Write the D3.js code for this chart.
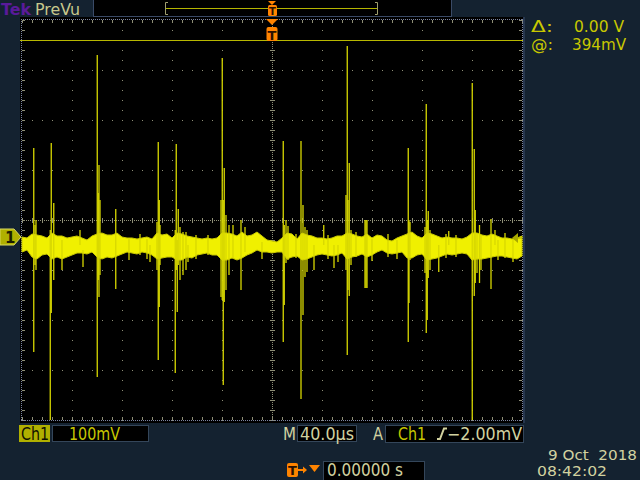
<!DOCTYPE html>
<html><head><meta charset="utf-8">
<script src="https://cdn.jsdelivr.net/npm/d3@7"></script>
<style>html,body{margin:0;padding:0;background:#142230;}svg{display:block;}</style>
</head><body>
<svg id="scope" width="640" height="480"></svg>
<script>
// ---------------- DATA ----------------
// Time base: 40 µs/div, 10 divisions, trigger at centre (µs)
const timeUs = [-200,-196,-192,-188,-184,-180,-176,-172,-168,-164,
 -160,-156,-152,-148,-144,-140,-136,-132,-128,-124,
 -120,-116,-112,-108,-104,-100,-96,-92,-88,-84,
 -80,-76,-72,-68,-64,-60,-56,-52,-48,-44,
 -40,-36,-32,-28,-24,-20,-16,-12,-8,-4,
 0,4,8,12,16,20,24,28,32,36,
 40,44,48,52,56,60,64,68,72,76,
 80,84,88,92,96,100,104,108,112,116,
 120,124,128,132,136,140,144,148,152,156,
 160,164,168,172,176,180,184,188,192,196,200];
// Noise band envelope (mV), Ch1 100 mV/div
const bandHighMv = [0,-2,6,4,2,-2,8,2,2,-2,
 0,2,-2,-6,2,6,8,4,4,8,
 0,-2,-2,-4,-2,0,-4,8,4,6,
 -2,8,6,2,0,-2,-4,-2,-4,-2,
 8,8,6,2,10,2,4,10,2,-6,
 -8,-10,-2,8,6,-4,8,4,2,-2,
 -2,-4,-2,2,2,8,6,2,0,6,
 -2,4,2,-6,-8,-2,2,6,10,2,
 -2,8,6,2,-2,0,-2,-2,-4,0,
 8,8,4,2,6,2,-2,-2,-4,-2,2];
const bandLowMv = [-30,-26,-40,-44,-36,-34,-44,-40,-44,-40,
 -36,-32,-32,-34,-30,-40,-44,-40,-42,-38,
 -34,-30,-32,-34,-30,-32,-36,-44,-42,-40,
 -40,-46,-46,-40,-42,-36,-34,-32,-36,-36,
 -46,-46,-42,-46,-42,-36,-32,-26,-30,-30,
 -32,-30,-30,-44,-40,-38,-46,-44,-40,-36,
 -34,-36,-38,-36,-32,-44,-40,-38,-34,-40,
 -36,-30,-26,-32,-34,-32,-30,-42,-42,-36,
 -34,-46,-44,-42,-38,-34,-36,-34,-32,-34,
 -46,-44,-44,-42,-40,-38,-38,-40,-42,-44,-38];
// Glitches / spikes: time (µs), peak high (mV), peak low (mV)
const spikeTimeUs = [-190.6,-176.6,-177.4,-174.6,-139.8,-138.4,-125.0,-91.0,-90.2,-76.6,
 -77.4,-75.8,-75.0,-39.8,-39.0,-38.2,-24.8,9.0,9.8,23.2,
 24.8,33.6,60.2,61.8,74.4,75.2,76.0,109.0,109.6,123.4,
 124.2,125.0,160.2,161.8,162.6,166.0,175.2,-168,-151.2,-153.6,
 -97.6,-67.2,-31.2,41.4,49.6,52.8,133.4,141.4,178.4,180.8,
 -188.8,-189.6,-139.0,-137.6,-92,-89.6,-73.6,-71.2,-68.8,-40.8,
 -36.8,-34.4,11.2,12.8,26.4,28,59.2,60.8,63.2,110.4,
 122.4,126.4,164,167.2,
 -114.4,-105.6,-100,-60.8,-51.2,-21.6,-8,19.2,44.8,67.2,
 80,92.8,100,139.2,147.2,186.4,192.8];
const spikeHighMv = [178,188,14,68,364,144,56,190,74,186,
 14,-6,56,358,74,138,34,192,24,192,
 64,-16,382,148,34,34,34,178,34,266,
 34,52,308,176,54,24,36,-6,-26,14,
 -16,-16,24,24,-16,-16,-16,12,14,-6,
 34,24,88,74,30,24,20,10,10,74,
 44,24,34,22,20,14,84,74,14,30,
 20,14,8,4,
 -4,6,-4,4,4,20,-10,6,4,10,
 -4,6,-6,6,4,8,-4];
const spikeLowMv = [-230,-152,-366,-86,-280,-120,-104,-246,-140,-66,
 -272,-150,-56,-126,-296,-130,-106,-210,-136,-324,
 -156,-66,-236,-118,-102,-102,-102,-210,-132,-192,
 -166,-82,-366,-118,-92,-92,-104,-66,-60,-16,
 -50,-50,-42,-16,-62,-50,-70,-16,-16,-46,
 -66,-56,-86,-76,-66,-56,-86,-76,-66,-120,
 -106,-76,-52,-46,-80,-70,-66,-106,-56,-46,
 -72,-66,-72,-66,
 -46,-36,-44,-44,-36,-30,-44,-42,-44,-40,
 -48,-40,-44,-42,-40,-42,-50];
// Readouts
const chLabel = "Ch1", voltsPerDiv = "100mV", timePerDiv = "40.0µs";
const trigSource = "Ch1", trigLevel = "−2.00mV";
const cursorDelta = "0.00 V", cursorAt = "394mV", cursorMv = 394;
const trigLevelMv = -2;
const dateText = "9 Oct\u00a0 2018", timeText = "08:42:02", trigPos = "0.00000 s";

// ---------------- SCALES ----------------
const svg = d3.select("#scope");
const x = d3.scaleLinear().domain([-200, 200]).range([22, 522]);
const y = d3.scaleLinear().domain([-366, 434]).range([420, 20]);
const X0 = 22, X1 = 522, Y0 = 20, Y1 = 420, XC = 272, YC = 220;

const pale = "#d2d2a0", yel = "#c8c800", grid = "#8e8e76", orange = "#ff8400";
const font = "'DejaVu Sans', sans-serif";

svg.append("rect").attr("width",640).attr("height",480).attr("fill","#142230");
svg.append("rect").attr("x",20).attr("y",17).attr("width",503).attr("height",406).attr("fill","#000");
svg.append("rect").attr("x",523).attr("y",17).attr("width",2).attr("height",406).attr("fill","#27374f");

// ---------------- GRATICULE ----------------
const g = svg.append("g").attr("shape-rendering","crispEdges");
const xDivs = d3.range(1, 10).map(i => x(-200 + 40 * i));
const yDivs = d3.range(1, 8).map(j => Y0 + 50 * j);
const pts = [];
xDivs.forEach(xx => { if (xx !== XC) d3.range(Y0, Y1 + 1, 10).forEach(yy => pts.push([xx, yy])); });
yDivs.forEach(yy => { if (yy !== YC) d3.range(X0, X1 + 1, 10).forEach(xx => pts.push([xx, yy])); });
d3.range(Y0, Y1 + 1, 2).forEach(yy => pts.push([XC, yy]));
d3.range(X0, X1 + 1, 2).forEach(xx => pts.push([xx, YC]));
g.selectAll("rect.dot").data(pts).join("rect").attr("class","dot")
  .attr("x", d => d[0]).attr("y", d => d[1]).attr("width",1).attr("height",1).attr("fill", grid);
const ticks = [];
d3.range(Y0, Y1 + 1, 10).forEach(yy => ticks.push([XC - 2, yy, XC + 3, yy]));
d3.range(X0, X1 + 1, 10).forEach(xx => ticks.push([xx, YC - 2, xx, YC + 3]));
d3.range(X0, X1 + 1, 10).forEach(xx => { ticks.push([xx, Y0, xx, Y0 + 3]); ticks.push([xx, Y1 - 3, xx, Y1]); });
d3.range(Y0, Y1 + 1, 10).forEach(yy => { ticks.push([X0, yy, X0 + 3, yy]); ticks.push([X1 - 3, yy, X1, yy]); });
g.selectAll("line.tk").data(ticks).join("line").attr("class","tk")
  .attr("x1", d => d[0]).attr("y1", d => d[1]).attr("x2", d => d[2]).attr("y2", d => d[3])
  .attr("stroke", grid).attr("stroke-width",1);
const border = [[21.5,19,21.5,421],[522.5,19,522.5,421],[21,19.5,523,19.5],[21,420.5,523,420.5]];
g.selectAll("line.bd").data(border).join("line").attr("class","bd")
  .attr("x1", d => d[0]).attr("y1", d => d[1]).attr("x2", d => d[2]).attr("y2", d => d[3])
  .attr("stroke","#7c84a0").attr("stroke-dasharray","1,1");

// cursor line
svg.append("line").attr("x1",20).attr("x2",523).attr("y1",y(cursorMv)).attr("y2",y(cursorMv))
  .attr("stroke","#b8b800").attr("stroke-width",1).attr("shape-rendering","crispEdges");

// ---------------- WAVEFORM ----------------
const band = timeUs.map((t, i) => ({t, hi: bandHighMv[i], lo: bandLowMv[i]}));
svg.append("path").datum(band)
  .attr("d", d3.area().x(d => x(d.t)).y0(d => y(d.lo)).y1(d => y(d.hi)))
  .attr("fill","#f0f000").attr("stroke","#c8c800").attr("stroke-width",1);
const spikes = spikeTimeUs.map((t, i) => ({t, hi: spikeHighMv[i], lo: spikeLowMv[i]}));
svg.selectAll("line.sp").data(spikes).join("line").attr("class","sp")
  .attr("x1", d => x(d.t)).attr("x2", d => x(d.t))
  .attr("y1", d => y(d.hi)).attr("y2", d => y(d.lo))
  .attr("stroke","#d8d800").attr("stroke-width",1.3);

// ---------------- MARKERS ----------------
svg.append("path").attr("d","M266,19L278,19L272,25Z").attr("fill",orange);
svg.append("rect").attr("x",266.5).attr("y",27).attr("width",11).attr("height",14).attr("rx",2).attr("fill",orange);
svg.append("text").attr("x",272).attr("y",39.5).attr("text-anchor","middle").attr("font-family",font)
  .attr("font-weight","bold").attr("font-size",13).attr("fill","#2a1000").text("T");
const gy = y(0);
svg.append("path").attr("d",`M0,${gy-8}L14,${gy-8}L21,${gy}L14,${gy+8}L0,${gy+8}Z`)
  .attr("fill","#b0b000").attr("stroke","#d8d860").attr("stroke-width",1);
svg.append("text").attr("x",5).attr("y",gy+6).attr("font-family",font).attr("font-weight","bold")
  .attr("font-size",15).attr("fill","#1c1c00").text("1");
const ty = y(trigLevelMv);
svg.append("path").attr("d",`M512,${ty}L518,${ty-5}L518,${ty+5}Z`).attr("fill","#a8a800");
svg.append("line").attr("x1",518).attr("x2",522).attr("y1",ty).attr("y2",ty).attr("stroke","#a8a800");

// ---------------- TOP BAR ----------------
svg.append("rect").attr("x",93.5).attr("y",-1).attr("width",358).attr("height",17.5)
  .attr("fill","#000").attr("stroke","#3a4a66");
svg.append("path").attr("d","M168,2.5H165.5V14.5H168").attr("fill","none").attr("stroke","#a0a070");
svg.append("path").attr("d","M375,2.5H377.5V14.5H375").attr("fill","none").attr("stroke","#a0a070");
svg.append("line").attr("x1",166).attr("x2",377).attr("y1",8.5).attr("y2",8.5).attr("stroke","#b4b400");
svg.append("path").attr("d","M268,1L276,1L272,5Z").attr("fill",orange);
svg.append("rect").attr("x",268).attr("y",5).attr("width",9).attr("height",11).attr("rx",1.5).attr("fill",orange);
svg.append("text").attr("x",272.5).attr("y",14.5).attr("text-anchor","middle").attr("font-family",font)
  .attr("font-weight","bold").attr("font-size",10).attr("fill","#2a1000").text("T");

function txt(s, x0, yb, len, fill, size, weight) {
  return svg.append("text").attr("x", x0).attr("y", yb).attr("font-family", font)
    .attr("font-size", size || 17).attr("font-weight", weight || "normal").attr("fill", fill)
    .attr("textLength", len).attr("lengthAdjust", "spacingAndGlyphs").style("white-space","pre").text(s);
}
txt("Tek", 1, 15, 30, "#5a1a9a", 16, "bold");
txt("PreVu", 35, 15, 45, "#c8c88c", 16);

txt("Δ:", 531, 32, 22, yel, 16);
txt(cursorDelta, 574, 32, 50, yel, 16);
txt("@:", 531, 50, 22, yel, 16);
txt(cursorAt, 572, 50, 54, yel, 16);

// ---------------- BOTTOM BAR ----------------
svg.append("rect").attr("x",19).attr("y",425).attr("width",31).attr("height",17).attr("fill","#b0b000");
txt(chLabel, 21, 440, 28, "#101000", 17);
svg.append("rect").attr("x",52.5).attr("y",425.5).attr("width",96).attr("height",16).attr("fill","#000").attr("stroke","#34465a");
txt(voltsPerDiv, 69, 440, 51, yel, 17);
txt("M", 283, 440, 13, pale, 17);
svg.append("rect").attr("x",297.5).attr("y",425.5).attr("width",59).attr("height",16).attr("fill","#000").attr("stroke","#34465a");
txt(timePerDiv, 300, 440, 54, pale, 17);
txt("A", 373, 440, 10, pale, 17);
svg.append("rect").attr("x",385.5).attr("y",425.5).attr("width",138).attr("height",17).attr("fill","#000").attr("stroke","#34465a");
txt(trigSource, 398, 440, 28, yel, 17);
svg.append("path").attr("d","M437,439H440L444,428.5H447").attr("fill","none").attr("stroke",pale).attr("stroke-width",2);
txt(trigLevel, 447, 440, 75, pale, 17);

txt(dateText, 548, 460, 89, pale, 14);
txt(timeText, 537, 476, 70, pale, 14);

svg.append("rect").attr("x",287).attr("y",463).attr("width",11).attr("height",14).attr("rx",2).attr("fill",orange);
svg.append("text").attr("x",292.5).attr("y",475).attr("text-anchor","middle").attr("font-family",font)
  .attr("font-weight","bold").attr("font-size",13).attr("fill","#2a1000").text("T");
svg.append("path").attr("d","M298,470H305").attr("stroke",orange).attr("stroke-width",2);
svg.append("path").attr("d","M303,466.5L307,470L303,473.5Z").attr("fill",orange);
svg.append("path").attr("d","M309,465H320L314.5,472Z").attr("fill",orange);
svg.append("rect").attr("x",323.5).attr("y",461.5).attr("width",101).attr("height",19).attr("fill","#000").attr("stroke","#34465a");
txt(trigPos, 327, 476, 76, pale, 17);
</script>
</body></html>
